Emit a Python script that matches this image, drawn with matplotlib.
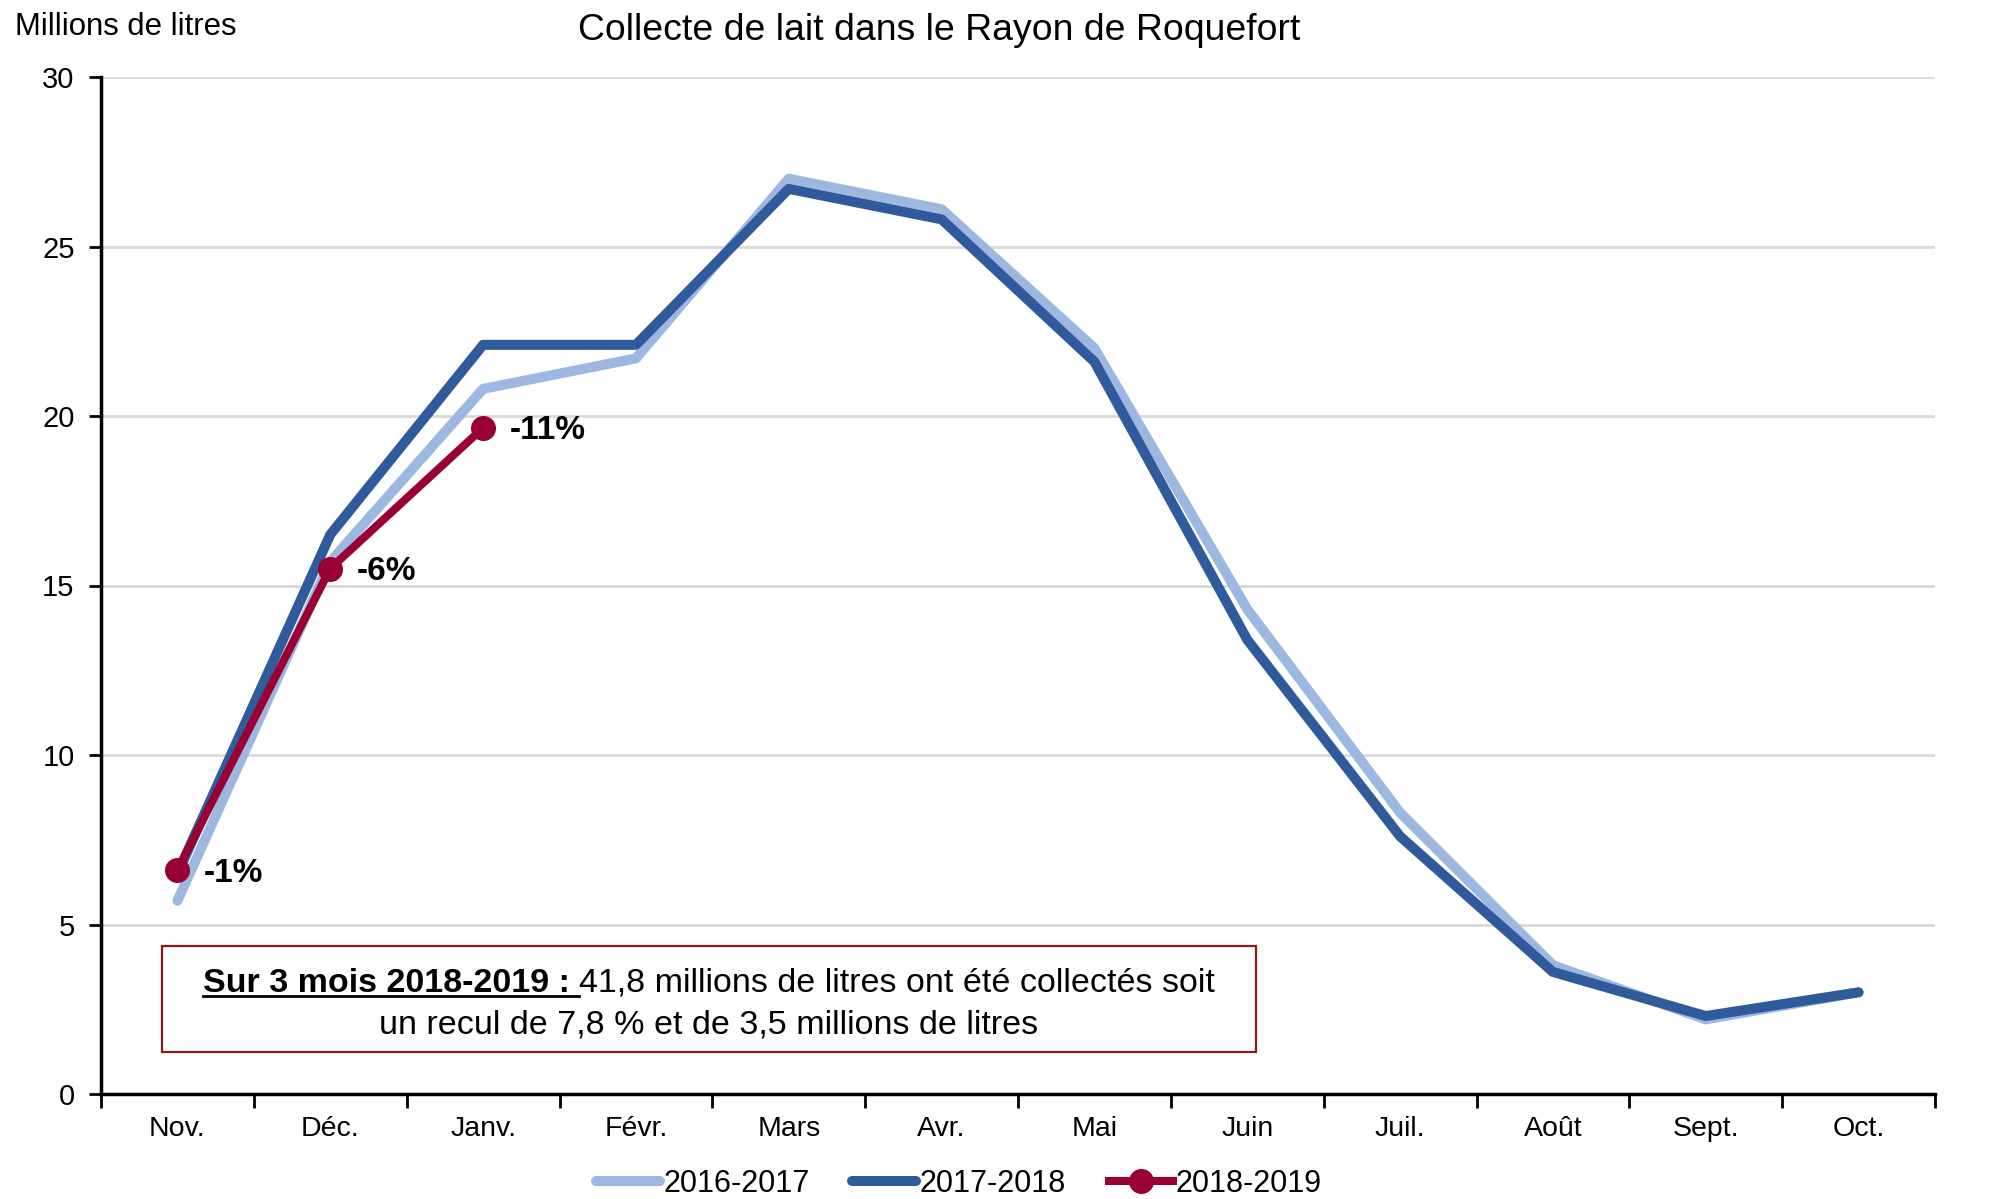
import matplotlib
matplotlib.use("Agg")
import matplotlib.pyplot as plt
from matplotlib.lines import Line2D
from matplotlib.patches import Rectangle

plt.rcParams['font.family'] = ['Liberation Sans', 'DejaVu Sans']

months = ["Nov.", "Déc.", "Janv.", "Févr.", "Mars", "Avr.", "Mai", "Juin",
          "Juil.", "Août", "Sept.", "Oct."]
s2016 = [5.7, 15.7, 20.8, 21.7, 27.0, 26.1, 22.0, 14.3, 8.3, 3.8, 2.2, 3.0]
s2017 = [6.5, 16.5, 22.1, 22.1, 26.7, 25.8, 21.6, 13.4, 7.6, 3.6, 2.3, 3.0]
s2018 = [6.6, 15.5, 19.65]
labels2018 = ["-1%", "-6%", "-11%"]
series_names = ["2016-2017", "2017-2018", "2018-2019"]
yticks = [0, 5, 10, 15, 20, 25, 30]

c_light = "#9DB8E0"
c_dark = "#2F5A9C"
c_red = "#990033"
c_box = "#8B1A1A"

W, H = 2013, 1199
fig = plt.figure(figsize=(W / 100, H / 100), dpi=100)
ax = fig.add_axes([101 / W, 1 - 1094 / H, (1935 - 101) / W, (1094 - 77) / H])

x = [i + 0.5 for i in range(len(months))]
l1, = ax.plot(x, s2016, color=c_light, lw=7.2, solid_capstyle='round', zorder=3,
              label=series_names[0])
l2, = ax.plot(x, s2017, color=c_dark, lw=7.2, solid_capstyle='round', zorder=4,
              label=series_names[1])
l3, = ax.plot(x[:len(s2018)], s2018, color=c_red, lw=5.8, marker='o', ms=17,
              zorder=5, label=series_names[2])

for xi, yi, lab in zip(x, s2018, labels2018):
    ax.annotate(lab, (xi, yi), xytext=(19, -2), textcoords='offset points',
                ha='left', va='center', fontsize=24, fontweight='bold', zorder=6)

ax.set_xlim(0, 12)
ax.set_ylim(0, 30)
ax.set_yticks(yticks)
ax.set_yticklabels([str(v) for v in yticks], fontsize=21)
ax.set_xticks(x)
ax.set_xticklabels(months, fontsize=20.5)
ax.set_xticks(range(13), minor=True)
ax.tick_params(axis='x', which='major', length=0, pad=16)
ax.tick_params(axis='x', which='minor', length=10, width=2, direction='out')
ax.tick_params(axis='y', length=9, width=2, direction='out', pad=10)
ax.yaxis.grid(True, color='#D9D9D9', lw=2)
ax.set_axisbelow(True)
for sp in ['top', 'right']:
    ax.spines[sp].set_visible(False)
for sp in ['left', 'bottom']:
    ax.spines[sp].set_linewidth(2.5)
    ax.spines[sp].set_zorder(7)

fig.text(939 / W, 1 - 31 / H, "Collecte de lait dans le Rayon de Roquefort",
         ha='center', va='center', fontsize=26.9)
fig.text(15 / W, 1 - 27 / H, "Millions de litres", ha='left', va='center', fontsize=22.4)

leg = fig.legend(handles=[l1, l2, l3], loc='center', bbox_to_anchor=(959 / W, 1 - 1184 / H),
                 ncol=3, frameon=False, fontsize=22, handlelength=2.1, handletextpad=0.1,
                 columnspacing=1.4, borderpad=0, borderaxespad=0)

# annotation box
bx0, by0, bx1, by1 = 162, 946, 1256, 1052
fig.patches.append(Rectangle((bx0 / W, 1 - by1 / H), (bx1 - bx0) / W, (by1 - by0) / H,
                             transform=fig.transFigure, facecolor='white',
                             edgecolor=c_box, lw=1.6, zorder=8))
cx = (bx0 + bx1) / 2
t1 = fig.text(0, 0, "Sur 3 mois 2018-2019 : ", fontsize=24.5, fontweight='bold',
              va='baseline', ha='left', zorder=9)
t2 = fig.text(0, 0, "41,8 millions de litres ont été collectés soit", fontsize=24.5,
              va='baseline', ha='left', zorder=9)
t3 = fig.text(cx / W, 1 - 1033 / H, "un recul de 7,8 % et de 3,5 millions de litres",
              fontsize=24.5, va='baseline', ha='center', zorder=9)
fig.canvas.draw()
r = fig.canvas.get_renderer()
w1 = t1.get_window_extent(r).width
w2 = t2.get_window_extent(r).width
x0 = cx - (w1 + w2) / 2
base1 = 992
t1.set_position((x0 / W, 1 - base1 / H))
t2.set_position(((x0 + w1) / W, 1 - base1 / H))
fig.lines.append(Line2D([x0 / W, (x0 + w1) / W], [1 - (base1 + 4) / H] * 2,
                        transform=fig.transFigure, color='black', lw=2, zorder=9))

fig.savefig("out.png", dpi=100)
